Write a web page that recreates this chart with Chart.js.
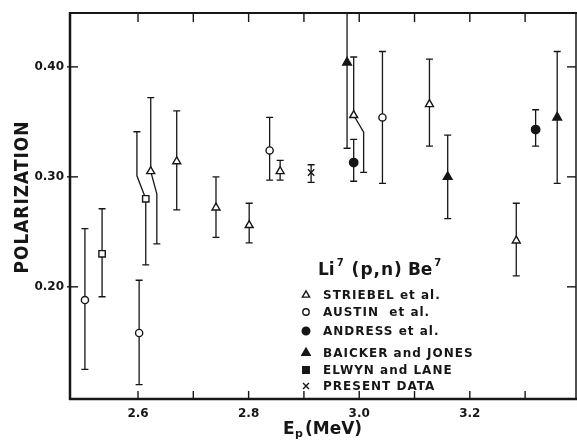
<!DOCTYPE html>
<html>
<head>
<meta charset="utf-8">
<script src="https://cdn.jsdelivr.net/npm/chart.js@4.4.0/dist/chart.umd.min.js"></script>
<style>
  html, body { margin: 0; padding: 0; background: #fff; }
  #wrap { width: 577px; height: 440px; }
</style>
</head>
<body>
<div id="wrap"><canvas id="polChart"></canvas></div>
<script>
// Li7(p,n)Be7 neutron polarization against proton energy (MeV)
const striebelE  = [2.623, 2.670, 2.741, 2.801, 2.857, 2.990, 3.127, 3.284];
const striebelP  = [0.305, 0.314, 0.272, 0.256, 0.305, 0.356, 0.366, 0.242];
const striebelLo = [0.239, 0.270, 0.245, 0.240, 0.297, 0.304, 0.328, 0.210];
const striebelHi = [0.372, 0.360, 0.300, 0.276, 0.315, 0.409, 0.407, 0.276];

const austinE  = [2.504, 2.602, 2.838, 3.042];
const austinP  = [0.188, 0.158, 0.324, 0.354];
const austinLo = [0.125, 0.111, 0.297, 0.294];
const austinHi = [0.253, 0.206, 0.354, 0.414];

const andressE  = [2.990, 3.319];
const andressP  = [0.313, 0.343];
const andressLo = [0.296, 0.328];
const andressHi = [0.334, 0.361];

const baickerE  = [2.978, 3.160, 3.358];
const baickerP  = [0.404, 0.300, 0.354];
const baickerLo = [0.326, 0.262, 0.294];
const baickerHi = [0.483, 0.338, 0.414];

const elwynE  = [2.535, 2.614];
const elwynP  = [0.230, 0.280];
const elwynLo = [0.191, 0.220];
const elwynHi = [0.271, 0.341];

const presentE  = [2.913];
const presentP  = [0.304];
const presentLo = [0.295];
const presentHi = [0.311];

// error bars pushed sideways where neighbours overlap:
// [series, point index, which half, E of the shifted bar, P where it bends]
const bentBars = [
  ['elwyn', 1, 'hi', 2.598, 0.301],
  ['striebel', 0, 'lo', 2.634, 0.2845],
  ['striebel', 5, 'lo', 3.008, 0.3406]
];

const xTicks = [2.6, 2.7, 2.8, 2.9, 3.0, 3.1, 3.2, 3.3];
const xLabels = [2.6, 2.8, 3.0, 3.2];
const yTicks = [0.20, 0.30, 0.40];

const legendRows = [
  ['STRIEBEL et al.', 'triangle', false],
  ['AUSTIN  et al.', 'circle', false],
  ['ANDRESS et al.', 'circle', true],
  ['BAICKER and JONES', 'triangle', true],
  ['ELWYN and LANE', 'rect', true],
  ['PRESENT DATA', 'crossRot', false]
];

const INK = '#161616';
const FONT = '"DejaVu Sans", sans-serif';

function points(E, P, lo, hi) {
  return E.map((e, i) => ({ x: e, y: P[i], lo: lo[i], hi: hi[i] }));
}

function series(key, label, data, style, radius, filled) {
  return {
    key, label, data,
    showLine: false,
    pointStyle: style,
    pointRadius: radius,
    pointHoverRadius: radius,
    pointBorderWidth: 1.4,
    pointBorderColor: INK,
    pointBackgroundColor: filled ? INK : '#fff'
  };
}

const errorBars = {
  id: 'errorBars',
  beforeDatasetsDraw(chart) {
    const { ctx, chartArea: a, scales: { x, y } } = chart;
    ctx.save();
    ctx.beginPath();
    ctx.rect(a.left, a.top, a.right - a.left, a.bottom - a.top);
    ctx.clip();
    ctx.strokeStyle = INK;
    ctx.lineWidth = 1.3;
    const cap = 3.5;
    chart.data.datasets.forEach(ds => {
      ds.data.forEach((pt, i) => {
        const px = x.getPixelForValue(pt.x);
        const py = y.getPixelForValue(pt.y);
        ['lo', 'hi'].forEach(side => {
          const end = y.getPixelForValue(pt[side]);
          const bend = bentBars.find(b => b[0] === ds.key && b[1] === i && b[2] === side);
          let bx = px;
          ctx.beginPath();
          ctx.moveTo(px, py);
          if (bend) {
            bx = x.getPixelForValue(bend[3]);
            ctx.lineTo(bx, y.getPixelForValue(bend[4]));
          }
          ctx.lineTo(bx, end);
          ctx.moveTo(bx - cap, end);
          ctx.lineTo(bx + cap, end);
          ctx.stroke();
        });
      });
    });
    ctx.restore();
  }
};

// frame with inward ticks, axis titles and the legend box
const frame = {
  id: 'frame',
  afterDraw(chart) {
    const { ctx, chartArea: a, scales: { x, y } } = chart;
    ctx.save();
    ctx.strokeStyle = INK;
    ctx.fillStyle = INK;

    const line = (w, x1, y1, x2, y2) => {
      ctx.lineWidth = w;
      ctx.beginPath();
      ctx.moveTo(x1, y1);
      ctx.lineTo(x2, y2);
      ctx.stroke();
    };
    line(2.5, a.left, a.top - 1, a.left, a.bottom + 1);
    line(2.5, a.left - 1, a.bottom, a.right + 1, a.bottom);
    line(2, a.left - 1, a.top, a.right + 1, a.top);
    line(1.5, a.right, a.top, a.right, a.bottom);

    xTicks.forEach(v => {
      const px = x.getPixelForValue(v);
      line(1.4, px, a.bottom, px, a.bottom - 8);
      line(1.4, px, a.top, px, a.top + 9);
    });
    yTicks.forEach(v => {
      const py = y.getPixelForValue(v);
      line(1.4, a.left - 3, py, a.left + 8, py);
      line(1.4, a.right, py, a.right - 9, py);
    });

    // y title
    ctx.font = 'bold 17px ' + FONT;
    ctx.letterSpacing = '1px';
    ctx.textAlign = 'center';
    ctx.textBaseline = 'middle';
    const yt = 'POLARIZATION';
    const w = ctx.measureText(yt).width;
    ctx.save();
    ctx.translate(23, 197);
    ctx.rotate(-Math.PI / 2);
    ctx.scale(153 / w, 1.15);
    ctx.fillText(yt, 0, 0);
    ctx.restore();
    ctx.letterSpacing = '0px';

    // x title
    ctx.textAlign = 'left';
    ctx.textBaseline = 'alphabetic';
    ctx.font = 'bold 17px ' + FONT;
    ctx.fillText('E', 283, 434);
    ctx.font = 'bold 11px ' + FONT;
    ctx.fillText('p', 295, 437);
    ctx.font = 'bold 17px ' + FONT;
    ctx.fillText('(MeV)', 305, 434);

    // reaction label
    let cx = 318;
    const piece = (txt, size, base, gap, spacing) => {
      ctx.font = 'bold ' + size + 'px ' + FONT;
      ctx.letterSpacing = (spacing || 0) + 'px';
      ctx.fillText(txt, cx, base);
      cx += ctx.measureText(txt).width + gap;
    };
    piece('Li', 17, 275, 2);
    piece('7', 10, 266, 8);
    piece('(p,n)', 17, 275, 5, 1);
    piece('Be', 17, 275, 2);
    piece('7', 10, 266, 0);

    // legend entries
    const rowsY = [295, 312, 331, 353, 370, 386];
    const sizes = { triangle: 4.2, circle: 3.2, rect: 4.6, crossRot: 4.2 };
    ctx.font = 'bold 12px ' + FONT;
    ctx.letterSpacing = '1px';
    ctx.textBaseline = 'middle';
    legendRows.forEach((row, i) => {
      const [text, style, filled] = row;
      let r = sizes[style];
      if (style === 'circle' && filled) r = 3.8;
      if (style === 'triangle' && filled) r = 4.8;
      ctx.fillStyle = filled ? INK : '#fff';
      ctx.strokeStyle = INK;
      ctx.lineWidth = 1.4;
      Chart.helpers.drawPoint(ctx, { pointStyle: style, radius: r, borderWidth: 1.4, rotation: 0 }, 306, rowsY[i]);
      ctx.fillStyle = INK;
      ctx.fillText(text, 323, rowsY[i] + 0.5);
    });
    ctx.restore();
  }
};

const tickFont = { family: FONT, weight: 'bold', size: 12 };

new Chart(document.getElementById('polChart'), {
  type: 'scatter',
  data: {
    datasets: [
      series('striebel', 'STRIEBEL et al.', points(striebelE, striebelP, striebelLo, striebelHi), 'triangle', 4.6, false),
      series('austin', 'AUSTIN et al.', points(austinE, austinP, austinLo, austinHi), 'circle', 3.6, false),
      series('andress', 'ANDRESS et al.', points(andressE, andressP, andressLo, andressHi), 'circle', 4.2, true),
      series('baicker', 'BAICKER and JONES', points(baickerE, baickerP, baickerLo, baickerHi), 'triangle', 5, true),
      series('elwyn', 'ELWYN and LANE', points(elwynE, elwynP, elwynLo, elwynHi), 'rect', 4.5, false),
      series('present', 'PRESENT DATA', points(presentE, presentP, presentLo, presentHi), 'crossRot', 4.5, false)
    ]
  },
  options: {
    responsive: true,
    maintainAspectRatio: false,
    animation: false,
    events: [],
    layout: { autoPadding: false, padding: { top: 13, right: 1, left: 0, bottom: 0 } },
    plugins: {
      legend: { display: false },
      tooltip: { enabled: false }
    },
    scales: {
      x: {
        type: 'linear',
        min: 2.477,
        max: 3.392,
        grid: { display: false, drawTicks: false },
        border: { display: false },
        afterBuildTicks: s => { s.ticks = xTicks.map(v => ({ value: v })); },
        afterFit: s => { s.height = 41; s.paddingLeft = 0; s.paddingRight = 0; },
        ticks: {
          autoSkip: false,
          maxRotation: 0,
          padding: 8,
          color: INK,
          font: tickFont,
          callback: v => xLabels.some(l => Math.abs(l - v) < 1e-6) ? v.toFixed(1) : ''
        }
      },
      y: {
        type: 'linear',
        min: 0.098,
        max: 0.449,
        grid: { display: false, drawTicks: false },
        border: { display: false },
        afterBuildTicks: s => { s.ticks = yTicks.map(v => ({ value: v })); },
        afterFit: s => { s.width = 70; s.paddingTop = 0; s.paddingBottom = 0; },
        ticks: {
          padding: 6,
          color: INK,
          font: tickFont,
          callback: v => v.toFixed(2)
        }
      }
    }
  },
  plugins: [errorBars, frame]
});
</script>
</body>
</html>
